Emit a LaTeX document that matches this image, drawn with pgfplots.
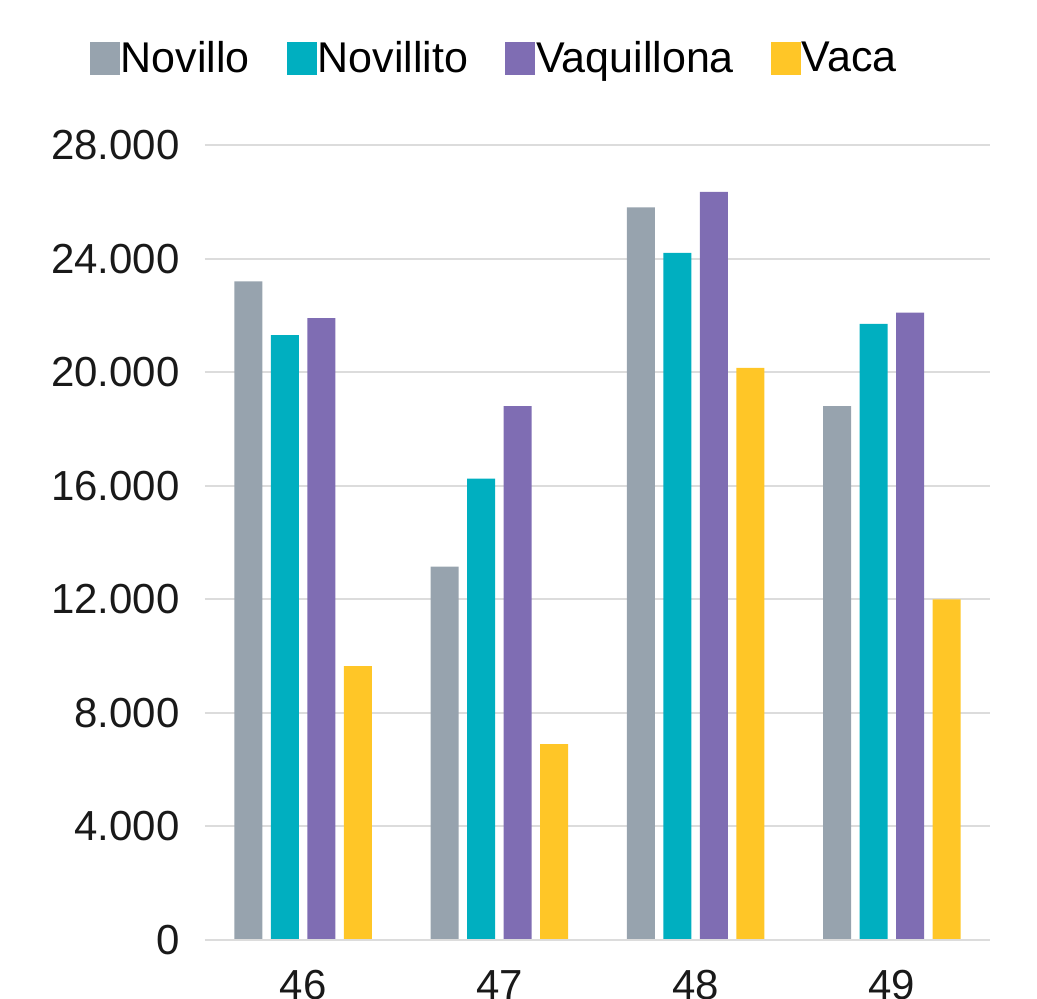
\documentclass[border=0pt]{standalone}
\usepackage{pgfplots}
\pgfplotsset{compat=1.18}
\usepackage{fontspec}
\setmainfont{Liberation Sans}
\definecolor{cNovillo}{HTML}{97A3AE}
\definecolor{cNovillito}{HTML}{00AFC0}
\definecolor{cVaquillona}{HTML}{7F6DB3}
\definecolor{cVaca}{HTML}{FFC627}
\definecolor{cGrid}{HTML}{DCDCDC}
\begin{document}
\begin{tikzpicture}
\useasboundingbox (-102.5pt,-29.5pt) rectangle (416pt,470pt);
\begin{axis}[
  at={(0pt,0pt)}, anchor=south west,
  scale only axis, width=392.5pt, height=397.5pt,
  ybar=4.25pt, bar width=14pt,
  xmin=-0.5, xmax=3.5, ymin=0, ymax=28000,
  xtick={0,1,2,3}, xticklabels={46,47,48,49},
  ytick={0,4000,8000,12000,16000,20000,24000,28000},
  scaled y ticks=false,
  /pgf/number format/.cd, 1000 sep={.}, assume math mode=true, /pgfplots/.cd,
  major tick length=0pt,
  axis line style={draw=none},
  ymajorgrids, grid style={cGrid, line width=1pt},
  tick label style={font=\fontsize{21pt}{25pt}\selectfont, text=black!90},
  yticklabel style={anchor=east, inner sep=0pt, xshift=-12.5pt},
  xticklabel style={anchor=north, inner sep=0pt, yshift=-15pt},
  legend style={at={(-0.155,1.1094)}, anchor=west, draw=none, fill=none,
    font=\fontsize{21.5pt}{25pt}\selectfont, legend columns=-1,
    nodes={inner sep=0.5pt},
    /tikz/every even column/.append style={column sep=18pt}},
  legend image code/.code={\fill (0pt,-8.25pt) rectangle (15pt,8.25pt);},
  every axis plot/.append style={draw=none},
]
\addplot[fill=cNovillo] coordinates {(0,23200) (1,13150) (2,25800) (3,18800)};
\addplot[fill=cNovillito] coordinates {(0,21300) (1,16250) (2,24200) (3,21700)};
\addplot[fill=cVaquillona] coordinates {(0,21900) (1,18800) (2,26350) (3,22100)};
\addplot[fill=cVaca] coordinates {(0,9650) (1,6900) (2,20150) (3,12000)};
\legend{Novillo,Novillito,Vaquillona,Vaca}
\draw[cGrid, line width=1pt] (rel axis cs:0,0) -- (rel axis cs:1,0);
\end{axis}
\end{tikzpicture}
\end{document}
